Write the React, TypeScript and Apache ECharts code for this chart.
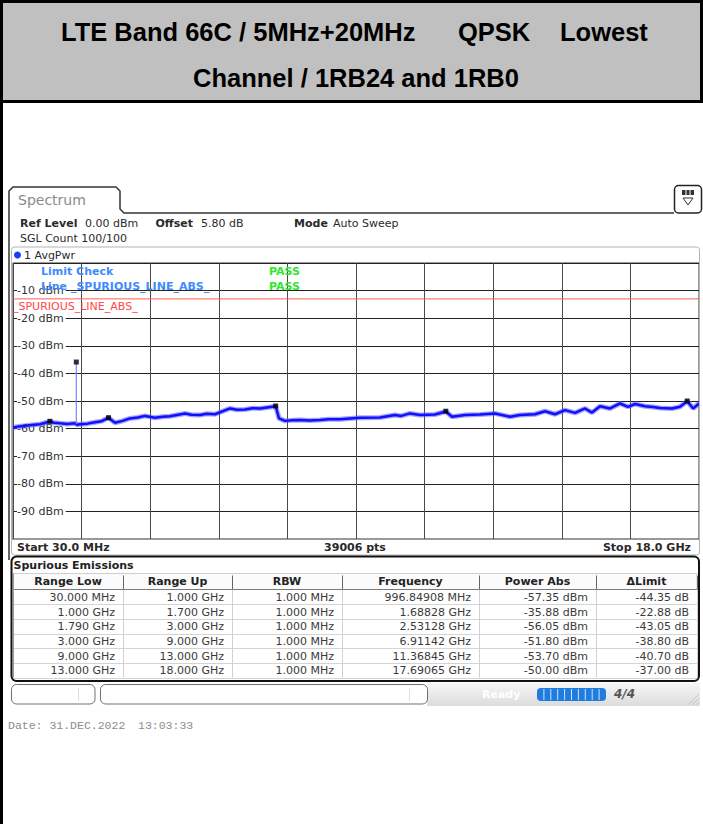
import React, { useEffect, useRef } from 'react';
import * as echarts from 'echarts';

// ---- data ----
const startFreqGHz = 0.03;
const stopFreqGHz = 18;
const refLevelDbm = 0;
const bottomLevelDbm = -100;
const limitLevelDbm = -13;

const traceFreqGHz = [
  0.03, 0.19, 0.344, 0.52, 0.737, 0.997, 1.1, 1.261, 1.45, 1.654, 1.68, 1.70, 1.785, 1.98, 2.178, 2.35, 2.531,
  2.702, 2.9, 3.095, 3.3, 3.488, 3.75, 3.95, 4.143, 4.536, 4.7, 4.929, 5.1, 5.321, 5.714, 5.9, 6.107, 6.3, 6.5,
  6.911, 6.998, 7.155, 7.35, 7.548, 7.8, 8.072, 8.3, 8.596, 8.85, 9.12, 9.644, 10.037, 10.2, 10.429, 10.691,
  11.084, 11.368, 11.53, 11.871, 12.264, 12.656, 13.049, 13.311, 13.704, 13.966, 14.228, 14.49, 14.752, 15.014,
  15.197, 15.407, 15.669, 15.931, 16.14, 16.324, 16.586, 16.8, 16.979, 17.293, 17.502, 17.691, 17.848, 18.0,
];
const traceLevelDbm = [
  -59.6, -59.2, -59.0, -58.7, -58.4, -57.4, -57.9, -58.1, -58.3, -58.1, -58.2, -58.6, -58.4, -58.2, -57.7, -57.3, -56.1,
  -57.9, -57.2, -56.3, -56.0, -55.4, -56.1, -55.7, -55.5, -54.5, -55.0, -55.1, -54.6, -54.8, -52.7, -53.2, -53.1, -52.6, -52.7,
  -51.9, -56.3, -57.2, -57.0, -56.9, -57.1, -56.9, -56.6, -56.6, -56.3, -56.1, -56.0, -55.1, -55.4, -54.5, -55.1,
  -54.9, -53.8, -55.7, -55.1, -54.9, -54.5, -55.7, -55.1, -54.8, -53.7, -54.8, -53.3, -54.3, -52.7,
  -54.2, -51.9, -52.7, -50.9, -52.1, -51.1, -51.9, -52.2, -52.5, -52.7, -52.1, -50.1, -52.7, -50.9,
];

const markerFreqGHz = [0.99684908, 1.68828, 2.53128, 6.91142, 11.36845, 17.69065];
const markerLevelDbm = [-57.35, -35.88, -56.05, -51.8, -53.7, -50.0];
const spikeBaseDbm = -58.3;

const rangeLow = ['30.000 MHz', '1.000 GHz', '1.790 GHz', '3.000 GHz', '9.000 GHz', '13.000 GHz'];
const rangeUp = ['1.000 GHz', '1.700 GHz', '3.000 GHz', '9.000 GHz', '13.000 GHz', '18.000 GHz'];
const rbw = ['1.000 MHz', '1.000 MHz', '1.000 MHz', '1.000 MHz', '1.000 MHz', '1.000 MHz'];
const tableHeaders = ['Range Low', 'Range Up', 'RBW', 'Frequency', 'Power Abs', '\u0394Limit'];

const fmtFreq = (f: number) => (f < 1 ? (f * 1000).toFixed(5) + ' MHz' : f.toFixed(5) + ' GHz');
const fmtPow = (p: number) => p.toFixed(2) + ' dBm';
const fmtDelta = (p: number) => (Math.round((p - limitLevelDbm) * 100) / 100).toFixed(2) + ' dB';

const FONT = '"DejaVu Sans", Verdana, sans-serif';

function txt(x: number, y: number, text: string, o: any = {}) {
  return {
    type: 'text',
    x,
    y,
    z: o.z ?? 20,
    silent: true,
    style: {
      text,
      fill: o.fill ?? '#2a2a2a',
      font: `${o.bold ? 'bold ' : ''}${o.italic ? 'italic ' : ''}${o.size ?? 11}px ${o.family ?? FONT}`,
      textAlign: o.align ?? 'left',
      textVerticalAlign: 'middle',
    },
  };
}
function rect(x: number, y: number, w: number, h: number, style: any, r = 0, z = 10) {
  return { type: 'rect', z, silent: true, shape: { x, y, width: w, height: h, r }, style };
}
function line(x1: number, y1: number, x2: number, y2: number, stroke: string, lw = 1, z = 12) {
  return { type: 'line', z, silent: true, shape: { x1, y1, x2, y2 }, style: { stroke, lineWidth: lw } };
}

export default function App() {
  const ref = useRef<HTMLDivElement>(null);
  useEffect(() => {
    if (!ref.current) return;
    const chart = echarts.init(ref.current, undefined, { renderer: 'svg' });

    const g: any[] = [];
    // header
    g.push(rect(0, 0, 703, 101, { fill: '#c0c0c0' }, 0, 5));
    g.push(rect(0, 0, 703, 3, { fill: '#000' }, 0, 6));
    g.push(rect(0, 100, 703, 3, { fill: '#000' }, 0, 6));
    g.push(rect(0, 0, 3, 824, { fill: '#000' }, 0, 6));
    g.push(rect(700, 0, 3, 103, { fill: '#000' }, 0, 6));
    const TF = '"Liberation Sans", Arial, sans-serif';
    g.push(txt(61, 32, 'LTE Band 66C / 5MHz+20MHz', { bold: true, size: 25.5, family: TF, fill: '#000' }));
    g.push(txt(458, 32, 'QPSK', { bold: true, size: 25.5, family: TF, fill: '#000' }));
    g.push(txt(560, 32, 'Lowest', { bold: true, size: 25.5, family: TF, fill: '#000' }));
    g.push(txt(356, 78, 'Channel / 1RB24 and 1RB0', { bold: true, size: 25.5, family: TF, fill: '#000', align: 'center' }));

    // tab
    g.push({
      type: 'polyline', z: 12, silent: true,
      shape: { points: [[9, 560], [9, 191], [13, 187], [116, 187], [120, 191], [120, 209], [124, 213], [674, 213]] },
      style: { stroke: '#333', lineWidth: 1.5, fill: 'none' },
    });
    g.push(txt(18, 200, 'Spectrum', { size: 14, fill: '#8a8a8a' }));
    // icon
    g.push(rect(674.5, 185.5, 27, 27.5, { fill: '#fff', stroke: '#222', lineWidth: 1.5 }, 4, 12));
    g.push(rect(682, 190, 12, 5, { fill: '#333' }, 0, 13));
    g.push(line(686, 190, 686, 195, '#fff', 1, 14));
    g.push(line(690, 190, 690, 195, '#fff', 1, 14));
    g.push({ type: 'polygon', z: 13, silent: true, shape: { points: [[683, 198], [693, 198], [688, 205]] }, style: { fill: 'none', stroke: '#333', lineWidth: 1 } });

    // info
    g.push(txt(20, 223.5, 'Ref Level', { bold: true }));
    g.push(txt(85, 223.5, '0.00 dBm'));
    g.push(txt(155.5, 223.5, 'Offset', { bold: true }));
    g.push(txt(201, 223.5, '5.80 dB'));
    g.push(txt(294, 223.5, 'Mode', { bold: true }));
    g.push(txt(333, 223.5, 'Auto Sweep'));
    g.push(txt(20, 238.5, 'SGL Count 100/100'));

    // panel outline
    g.push(rect(11.5, 247, 688, 308, { fill: 'none', stroke: '#b5b5b5', lineWidth: 1 }, 3, 11));
    g.push(line(12, 539.5, 699, 539.5, '#999', 1, 11));
    g.push({ type: 'circle', z: 20, silent: true, shape: { cx: 17.5, cy: 255, r: 3.5 }, style: { fill: '#1a3cff' } });
    g.push(txt(24, 255, '1 AvgPwr'));

    // limit check texts
    const BL = '#3d8bff';
    const GR = '#2ee62e';
    g.push(txt(41, 271, 'Limit Check', { bold: true, fill: BL, z: 30 }));
    g.push(txt(41, 286, 'Line _SPURIOUS_LINE_ABS_', { bold: true, fill: BL, z: 30 }));
    g.push(txt(269, 271, 'PASS', { bold: true, fill: GR, z: 30 }));
    g.push(txt(269, 286, 'PASS', { bold: true, fill: GR, z: 30 }));
    g.push(txt(13, 306, '_SPURIOUS_LINE_ABS_', { fill: '#ff4848', z: 30 }));

    // bottom strip
    g.push(txt(17, 547.5, 'Start 30.0 MHz', { bold: true }));
    g.push(txt(355, 547.5, '39006 pts', { bold: true, align: 'center' }));
    g.push(txt(691, 547.5, 'Stop 18.0 GHz', { bold: true, align: 'right' }));

    // table
    const cols = [13, 123, 232, 342, 479, 596, 697];
    const headTop = 573.5;
    const rowTop = 589.5;
    const rowH = 14.68;
    g.push(rect(13, headTop, 684, rowTop - headTop, { fill: '#fbfbfb', stroke: '#cfcfcf', lineWidth: 1 }, 0, 11));
    g.push(line(13, rowTop, 697, rowTop, '#7a7a7a', 1.2, 12));
    for (let i = 1; i < cols.length; i++) {
      g.push(line(cols[i] + 0.5, headTop + 2, cols[i] + 0.5, rowTop, '#666', 1, 13));
    }
    for (let r = 1; r <= 6; r++) {
      const y = Math.round(rowTop + r * rowH) + 0.5;
      g.push(line(13, y, 697, y, '#d4d4d4', 1, 12));
    }
    for (let i = 0; i < cols.length; i++) {
      g.push(line(cols[i] + 0.5, rowTop, cols[i] + 0.5, rowTop + 6 * rowH, '#d0d0d0', 1, 12));
    }
    g.push(line(13.5, headTop, 13.5, rowTop + 6 * rowH, '#9a9a9a', 1, 13));
    g.push(rect(11.5, 556.5, 687.5, 124.5, { fill: 'none', stroke: '#111', lineWidth: 2 }, 5, 14));
    g.push(txt(13.5, 565.5, 'Spurious Emissions', { bold: true, fill: '#222' }));
    tableHeaders.forEach((h, i) => {
      g.push(txt((cols[i] + cols[i + 1]) / 2, 581.5, h, { bold: true, fill: '#222', align: 'center' }));
    });
    const rowsText = markerFreqGHz.map((f, i) => [
      rangeLow[i], rangeUp[i], rbw[i], fmtFreq(f), fmtPow(markerLevelDbm[i]), fmtDelta(markerLevelDbm[i]),
    ]);
    rowsText.forEach((row, r) => {
      const y = rowTop + r * rowH + rowH / 2 + 0.5;
      row.forEach((c, i) => {
        g.push(txt(cols[i + 1] - 8, y, c, { fill: '#3a3a3a', align: 'right' }));
      });
    });

    // status bar
    g.push(rect(427, 683, 273, 23, {
      fill: new echarts.graphic.LinearGradient(0, 0, 0, 1, [
        { offset: 0, color: '#f6f6f6' }, { offset: 1, color: '#dcdcdc' },
      ]),
    }, 0, 10));
    g.push(rect(11.5, 684.5, 83.5, 19.5, { fill: '#fff', stroke: '#707070', lineWidth: 1 }, 5, 12));
    g.push(line(78.5, 688, 78.5, 701, '#dddddd', 1, 13));
    g.push(rect(100.5, 684.5, 327, 19.5, { fill: '#fff', stroke: '#707070', lineWidth: 1 }, 5, 12));
    g.push(line(409.5, 688, 409.5, 701, '#e0e0e0', 1, 13));
    g.push(txt(482, 694, 'Ready', { bold: true, fill: '#ffffff', size: 11 }));
    g.push(rect(537, 688, 69, 13, { fill: '#1f7de0' }, 4, 12));
    for (let k = 1; k < 10; k++) {
      g.push(line(537 + k * 6.9, 689, 537 + k * 6.9, 700, '#cfe3fa', 1, 13));
    }
    g.push(txt(614, 694, '4/4', { bold: true, italic: true, fill: '#555', size: 12 }));
    for (let k = 0; k < 3; k++) {
      g.push(line(688 + k * 4, 705, 699, 694 + k * 4, '#c8c8c8', 1, 13));
    }

    // date
    g.push(txt(8, 725, 'Date: 31.DEC.2022', { family: '"Liberation Mono", monospace', size: 11.5, fill: '#8c8c8c' }));
    g.push(txt(138, 725, '13:03:33', { family: '"Liberation Mono", monospace', size: 11.5, fill: '#8c8c8c' }));

    const trace = traceFreqGHz.map((f, i) => [f, traceLevelDbm[i]]);
    const markers = markerFreqGHz.map((f, i) => [f, markerLevelDbm[i]]);
    const spike = [[markerFreqGHz[1], spikeBaseDbm], [markerFreqGHz[1], markerLevelDbm[1]]];
    const limit = [[startFreqGHz, limitLevelDbm], [stopFreqGHz, limitLevelDbm]];

    chart.setOption({
      animation: false,
      backgroundColor: '#ffffff',
      grid: { left: 13, top: 263, width: 686, height: 276, show: true, borderColor: '#333', borderWidth: 1, backgroundColor: 'transparent' },
      xAxis: [
        { type: 'value', min: startFreqGHz, max: stopFreqGHz, show: false },
        {
          type: 'value', min: 0, max: 10, interval: 1, position: 'bottom',
          axisLine: { show: false }, axisTick: { show: false }, axisLabel: { show: false },
          splitLine: { show: true, lineStyle: { color: '#4a4a4a', width: 1 } },
        },
      ],
      yAxis: {
        type: 'value', min: bottomLevelDbm, max: refLevelDbm, interval: 10,
        axisLine: { show: false }, axisTick: { show: false },
        axisLabel: {
          inside: true, margin: 4, showMinLabel: false, showMaxLabel: false,
          color: '#333', fontSize: 11, fontFamily: 'DejaVu Sans',
          backgroundColor: '#ffffff', padding: [1, 2, 1, 0],
          formatter: (v: number) => `${v} dBm`,
        },
        splitLine: { show: true, lineStyle: { color: '#222', width: 1 } },
      },
      series: [
        { type: 'line', data: limit, symbol: 'none', silent: true, z: 3, lineStyle: { color: '#ff5a5a', width: 1 } },
        { type: 'line', data: trace, symbol: 'none', silent: true, z: 4, lineStyle: { color: 'rgba(90,90,255,0.55)', width: 5 } },
        { type: 'line', data: trace, symbol: 'none', silent: true, z: 4, lineStyle: { color: '#1010ff', width: 2.5 } },
        { type: 'line', data: spike, symbol: 'none', silent: true, z: 4, lineStyle: { color: '#8080ff', width: 1.2 } },
        { type: 'scatter', data: markers, symbol: 'rect', symbolSize: 5, silent: true, z: 5, itemStyle: { color: '#000' } },
      ],
      graphic: { elements: g },
    });
    return () => chart.dispose();
  }, []);
  return <div ref={ref} style={{ position: 'fixed', left: 0, top: 0, width: 703, height: 824 }} />;
}
